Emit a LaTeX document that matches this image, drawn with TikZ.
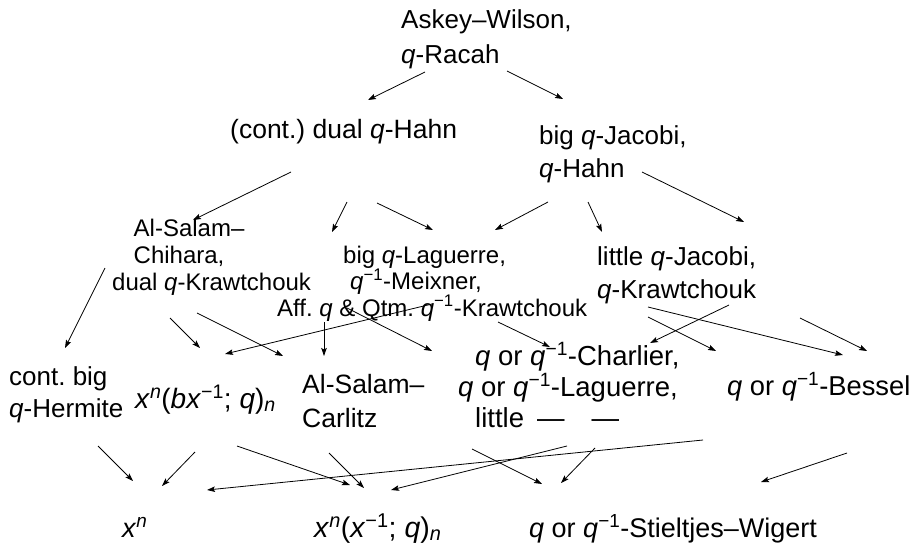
\documentclass[tikz,border=0pt]{standalone}
\usepackage{fontspec}
\setmainfont{Liberation Sans}
\usetikzlibrary{arrows.meta}
\frenchspacing
\newcommand{\fs}[2]{\fontsize{#1}{#2}\selectfont}
\newcommand{\qq}{\textit{q}}
\newcommand{\qi}{\textit{q}\textsuperscript{−1}}
\tikzset{
  lbl/.style={anchor=base west, inner sep=0pt, align=left},
  arr/.style={-{Stealth[length=8pt,width=5.5pt,inset=1.5pt]}, line width=0.8pt}
}
\begin{document}
\begin{tikzpicture}[x=1pt,y=-1pt]
\fill[white] (0,0) rectangle (915,546);
\useasboundingbox (0,0) rectangle (915,546);
% nodes (anchor = baseline of the last line)
\node[lbl, font=\fs{26}{35}] (aw) at (401,63) {Askey–Wilson,\\\qq-Racah};
\node[lbl, font=\fs{26.5}{33}] (dqh) at (230,138) {(cont.) dual \qq-Hahn};
\node[lbl, font=\fs{26}{32.5}] (bqj) at (539,177) {big \qq-Jacobi,\\\qq-Hahn};
\node[lbl, font=\fs{24}{27}] (asc) at (112,290) {\hspace*{21.5pt}Al-Salam–\\\hspace*{21.5pt}Chihara,\\dual \qq-Krawtchouk};
\node[lbl, font=\fs{24}{26.5}] (bql) at (277,316) {\hspace*{66pt}big \qq-Laguerre,\\\hspace*{73pt}\qi-Meixner,\\Aff. \qq\ \& Qtm. \qi-Krawtchouk};
\node[lbl, font=\fs{26}{33}] (lqj) at (597,298) {little \qq-Jacobi,\\\qq-Krawtchouk};
\node[lbl, font=\fs{26}{32}] (cbh) at (9,417) {cont. big\\\qq-Hermite};
\node[lbl, font=\fs{28}{32}] (xb) at (135,408) {\textit{x}\textsuperscript{\textit{n}}(\textit{bx}\textsuperscript{−1}; \qq)\textsubscript{\textit{n}}};
\node[lbl, font=\fs{26.5}{34}] (asca) at (302,427) {Al-Salam–\\Carlitz};
\node[lbl, font=\fs{27.5}{31}] (ch) at (458,427) {\hspace*{17pt}\qq\ or \qi-Charlier,\\\qq\ or \qi-Laguerre,\\\hspace*{17pt}little\hspace{13pt}—\hspace{27pt}—};
\node[lbl, font=\fs{27.3}{32}] (bes) at (727,395) {\qq\ or \qi-Bessel};
\node[lbl, font=\fs{27}{32}] (xn) at (122,537) {\textit{x}\textsuperscript{\textit{n}}};
\node[lbl, font=\fs{28.5}{32}] (xx) at (314,537) {\textit{x}\textsuperscript{\textit{n}}(\textit{x}\textsuperscript{−1}; \qq)\textsubscript{\textit{n}}};
\node[lbl, font=\fs{27}{32}] (sw) at (529,537) {\qq\ or \qi-Stieltjes–Wigert};
% connectors
\foreach \n/\xa/\ya/\xb/\yb in {
  a1/425/72/368/100, a2/507/71/563/99, a3/291/172/193/220,
  b1/347/202/332/232, b2/377/203/433/230, b3/548/202/495/230,
  b4/588/202/602/232, b5/642/172/744/222,
  c1/105/268/65/348, c2/170/318/200/348, c3/197/313/283/356,
  c4/432/304/225/354, c5/324/322/324/356, c6/347/308/432/351,
  c7/498/322/550/347, c8/729/305/650/343, c9/648/317/716/351,
  c10/648/307/843/355, c11/800/318/867/351,
  d1/98/446/133/481, d2/195/452/162/486, d3/237/446/350/485,
  d4/329/453/364/488, d5/703/440/207/490, d6/567/446/391/490,
  d7/472/449/542/484, d8/595/448/561/483, d9/847/453/761/482}{
  \coordinate (\n s) at (\xa,\ya);
  \coordinate (\n e) at (\xb,\yb);
  \draw[arr] (\n s) -- (\n e);
}
\end{tikzpicture}
\end{document}
